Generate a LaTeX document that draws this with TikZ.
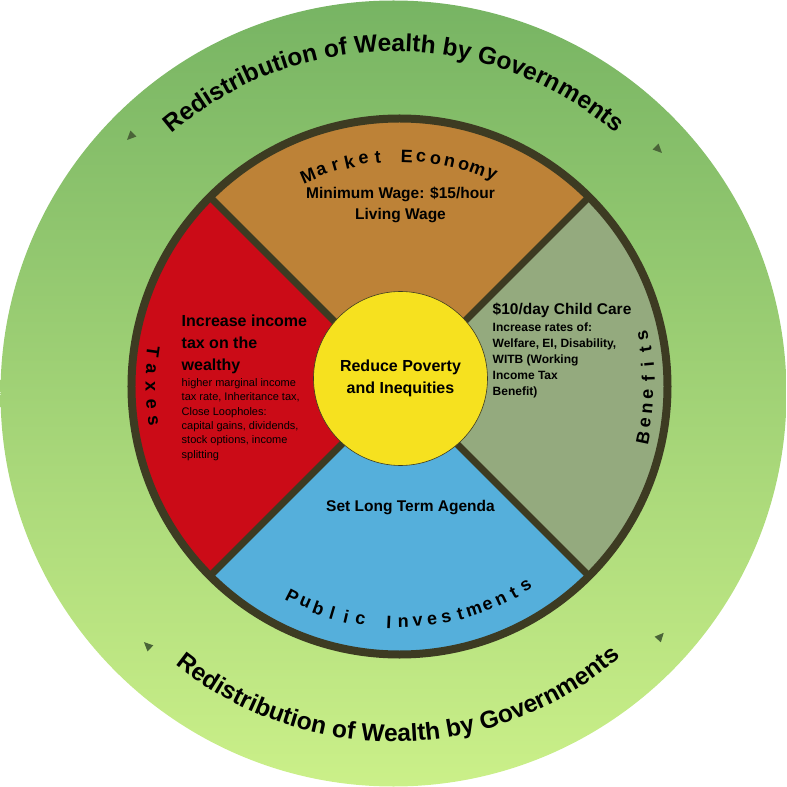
\documentclass[tikz,border=0pt]{standalone}
\usepackage{fontspec}
\setmainfont{Liberation Sans}
\usetikzlibrary{decorations.text,shapes.geometric,calc}
\definecolor{bord}{HTML}{3D3B22}
\definecolor{mkt}{HTML}{BD8237}
\definecolor{ben}{HTML}{94AA7E}
\definecolor{pub}{HTML}{55AFDB}
\definecolor{tax}{HTML}{CB0B17}
\definecolor{ylw}{HTML}{F6E11F}
\definecolor{gtop}{HTML}{77B463}
\definecolor{gbot}{HTML}{CBF089}
\definecolor{tri}{HTML}{4A6438}
\newcommand\arcfont{\bfseries\fontsize{18}{18}\selectfont}
\begin{document}
\begin{tikzpicture}[x=1pt,y=1pt,
  arcl/.style={font=\arcfont,inner sep=0pt},
  bigt/.style={font=\bfseries\fontsize{15.5}{21}\selectfont,align=center,inner sep=0pt},
  tritip/.style={isosceles triangle,fill=tri,minimum height=9pt,minimum width=7pt,inner sep=0pt,isosceles triangle apex angle=50}]
\useasboundingbox (-393.5,-393.5) rectangle (393.5,393.5);
\shade[top color=gtop,bottom color=gbot] (0,0) circle (393);
% arc titles
\path[postaction={decorate},decoration={text along path,text align=center,
  text={|\bfseries\fontsize{24.5}{24}\selectfont|Redistribution of Wealth by Governments}}]
  (180:342) arc (180:0:342);
\path[postaction={decorate},decoration={text along path,text align=center,
  text={|\bfseries\fontsize{24.5}{24}\selectfont|Redistribution of Wealth by Governments}}]
  (190:348) arc (190:352:348);
% triangles
\node[tritip,rotate=225] (t1) at (-262,258) {};
\node[tritip,rotate=-45] (t2) at (264,245) {};
\node[tritip,rotate=136] (t3) at (-245,-253) {};
\node[tritip,rotate=48] (t4) at (266,-244) {};
% inner disk
\coordinate (C) at (6,7);
\fill[mkt] (C) -- ++(45:270) arc (45:135:270) -- cycle;
\fill[tax] (C) -- ++(135:270) arc (135:225:270) -- cycle;
\fill[pub] (C) -- ++(225:270) arc (225:315:270) -- cycle;
\fill[ben] (C) -- ++(-45:270) arc (-45:45:270) -- cycle;
\draw[bord,line width=7] ($(C)+(45:268)$) -- ($(C)+(225:268)$);
\draw[bord,line width=7] ($(C)+(135:268)$) -- ($(C)+(-45:268)$);
\draw[bord,line width=8] (C) circle (268);
\node[circle,fill=ylw,draw=bord,line width=0.6,minimum size=174pt,inner sep=0pt] (core) at (7,15) {};
\node[bigt,font=\bfseries\fontsize{16}{22}\selectfont] (coret) at (core) {Reduce Poverty\\and Inequities};
% curved letter labels
\foreach \c [count=\i] in {M,a,r,k,e,t,{},E,c,o,n,o,m,y}
  \node[arcl,rotate={(7.5-\i)*3.6}] at ($(C)+({90+(7.5-\i)*3.6}:230)$) {\c};
\foreach \c [count=\i] in {P,u,b,l,i,c,{},I,n,v,e,s,t,m,e,n,t,s}
  \node[arcl,rotate={272.7+(\i-9.5)*3.5+90}] at ($(C)+({272.7+(\i-9.5)*3.5}:236)$) {\c};
\foreach \c [count=\i] in {T,a,x,e,s}
  \node[arcl,rotate={180+(\i-3)*4.0+90}] at ($(C)+({180+(\i-3)*4.0}:249)$) {\c};
\foreach \c [count=\i] in {B,e,n,e,f,i,t,s}
  \node[arcl,rotate={(\i-4.5)*3.4+90}] at ($(C)+({(\i-4.5)*3.4}:249)$) {\c};
% sector texts
\node[bigt] (mt) at (7,189) {Minimum Wage: \$15/hour\\Living Wage};
\node[anchor=north west,inner sep=0pt,align=left,font=\bfseries\fontsize{15.5}{19}\selectfont] (bt) at (99,91)
  {\$10/day Child Care};
\node[anchor=north west,inner sep=0pt,align=left,font=\bfseries\fontsize{12}{16}\selectfont] (bt2) at (99,71)
  {Increase rates of:\\Welfare, EI, Disability,\\WITB (Working\\Income Tax\\Benefit)};
\node[anchor=north west,inner sep=0pt,align=left,font=\bfseries\fontsize{16}{22}\selectfont] (tt) at (-212,79)
  {Increase income\\tax on the\\wealthy};
\node[anchor=north west,inner sep=0pt,align=left,font=\fontsize{11}{14.3}\selectfont] (tt2) at (-212,15)
  {higher marginal income\\tax rate, Inheritance tax,\\Close Loopholes:\\capital gains, dividends,\\stock options, income\\splitting};
\node[bigt] (pt) at (17,-114) {Set Long Term Agenda};
\end{tikzpicture}
\end{document}
